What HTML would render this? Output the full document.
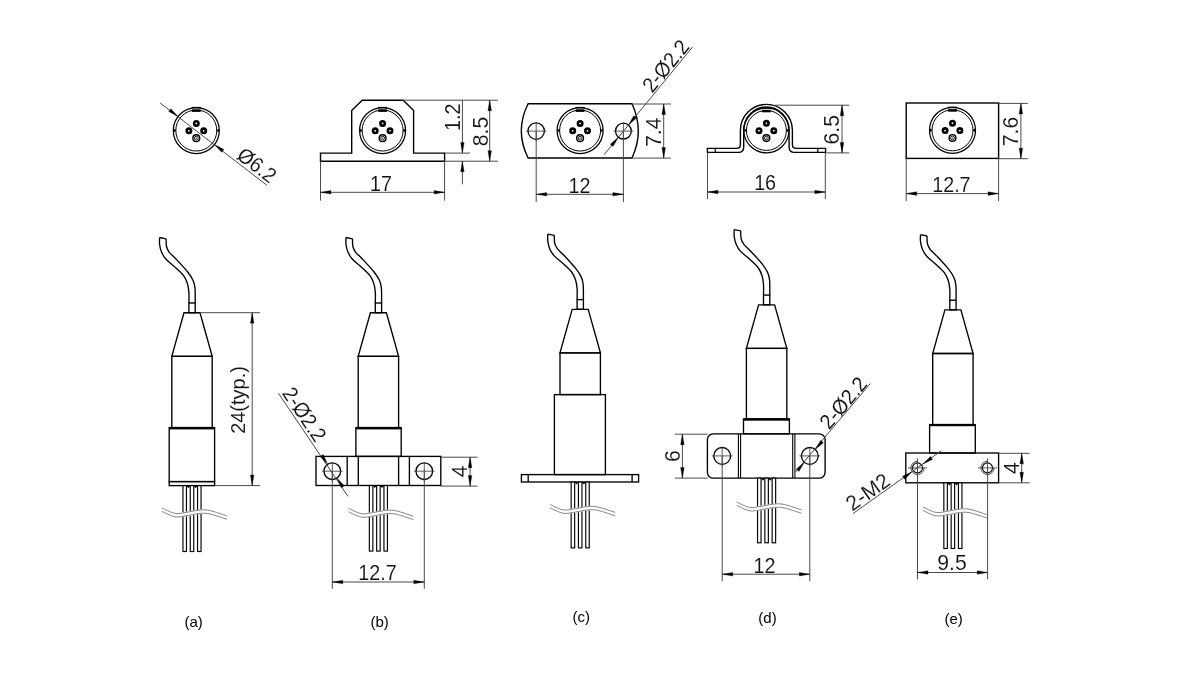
<!DOCTYPE html>
<html><head><meta charset="utf-8"><style>
html,body{margin:0;padding:0;background:#fff;}
body{width:1186px;height:700px;overflow:hidden;}
svg{display:block;will-change:transform;}
.t{font-family:"Liberation Sans",sans-serif;fill:#111;text-anchor:middle;stroke:#fff;stroke-width:0.1px;}
.lb{font-family:"Liberation Sans",sans-serif;fill:#000;}
</style></head><body>
<svg width="1186" height="700" viewBox="0 0 1186 700">
<rect x="0" y="0" width="1186" height="700" fill="#fff"/>
<circle cx="196.3" cy="130.5" r="23" stroke="#000" stroke-width="1.25" fill="#fff"/>
<circle cx="196.3" cy="130.5" r="20.5" stroke="#000" stroke-width="1.0" fill="none"/>
<rect x="191.9" y="109.4" width="8.8" height="2.5" fill="#000" stroke="none"/>
<rect x="191.7" y="106.9" width="9.2" height="1.4" fill="#000" stroke="none"/>
<path d="M173.8,128.7 L176.5,130.5 L173.8,132.3 Z" fill="#000"/>
<path d="M218.8,128.7 L216.1,130.5 L218.8,132.3 Z" fill="#000"/>
<circle cx="196.3" cy="123.4" r="2.2" stroke="#000" stroke-width="2.6" fill="#fff"/>
<circle cx="188.9" cy="130.8" r="2.2" stroke="#000" stroke-width="2.6" fill="#fff"/>
<circle cx="203.7" cy="130.8" r="2.2" stroke="#000" stroke-width="2.6" fill="#fff"/>
<circle cx="196.3" cy="138.2" r="3.4" stroke="#000" stroke-width="1.4" fill="none"/>
<circle cx="196.3" cy="138.2" r="1.9" stroke="#000" stroke-width="0.9" fill="none"/>
<circle cx="196.3" cy="138.2" r="0.6" fill="#000" stroke="none"/>
<line x1="160.1" y1="103" x2="266.9" y2="185.3" stroke="#4a4a4a" stroke-width="1" fill="none"/>
<path d="M178.08,116.46 L170.86,108.63 L168.67,111.48 Z" fill="#000" stroke="#000" stroke-width="0.3"/>
<path d="M214.52,144.54 L221.74,152.37 L223.93,149.52 Z" fill="#000" stroke="#000" stroke-width="0.3"/>
<text transform="translate(257,165) rotate(37.62) scale(0.93,1)" x="0" y="7.31" class="t" font-size="21.2">&#216;6.2</text>
<path d="M320.5,153.1 L351.7,153.1 L351.7,110.6 L362.2,100.2 L403.2,100.2 L413.6,110.6 L413.6,153.1 L444.6,153.1 L444.6,161.2 L320.5,161.2 Z" stroke="#000" stroke-width="1.4" fill="none"/>
<circle cx="382.6" cy="130.5" r="23" stroke="#000" stroke-width="1.25" fill="#fff"/>
<circle cx="382.6" cy="130.5" r="20.5" stroke="#000" stroke-width="1.0" fill="none"/>
<rect x="378.2" y="109.4" width="8.8" height="2.5" fill="#000" stroke="none"/>
<rect x="378" y="106.9" width="9.2" height="1.4" fill="#000" stroke="none"/>
<path d="M360.1,128.7 L362.8,130.5 L360.1,132.3 Z" fill="#000"/>
<path d="M405.1,128.7 L402.4,130.5 L405.1,132.3 Z" fill="#000"/>
<circle cx="382.6" cy="123.4" r="2.2" stroke="#000" stroke-width="2.6" fill="#fff"/>
<circle cx="375.2" cy="130.8" r="2.2" stroke="#000" stroke-width="2.6" fill="#fff"/>
<circle cx="390" cy="130.8" r="2.2" stroke="#000" stroke-width="2.6" fill="#fff"/>
<circle cx="382.6" cy="138.2" r="3.4" stroke="#000" stroke-width="1.4" fill="none"/>
<circle cx="382.6" cy="138.2" r="1.9" stroke="#000" stroke-width="0.9" fill="none"/>
<circle cx="382.6" cy="138.2" r="0.6" fill="#000" stroke="none"/>
<line x1="403.2" y1="100.2" x2="497.9" y2="100.2" stroke="#4a4a4a" stroke-width="1" fill="none"/>
<line x1="444.6" y1="153.1" x2="470" y2="153.1" stroke="#4a4a4a" stroke-width="1" fill="none"/>
<line x1="444.6" y1="161.2" x2="497.9" y2="161.2" stroke="#4a4a4a" stroke-width="1" fill="none"/>
<line x1="462.4" y1="100.2" x2="462.4" y2="153.1" stroke="#4a4a4a" stroke-width="1" fill="none"/>
<path d="M462.4,153.1 L464.2,142.6 L460.6,142.6 Z" fill="#000" stroke="#000" stroke-width="0.3"/>
<line x1="462.4" y1="161.2" x2="462.4" y2="184.3" stroke="#4a4a4a" stroke-width="1" fill="none"/>
<path d="M462.4,161.2 L460.6,171.7 L464.2,171.7 Z" fill="#000" stroke="#000" stroke-width="0.3"/>
<text transform="translate(453,117.3) rotate(-90) scale(0.93,1)" x="0" y="7.31" class="t" font-size="21.2">1.2</text>
<line x1="489.7" y1="100.2" x2="489.7" y2="161.2" stroke="#4a4a4a" stroke-width="1" fill="none"/>
<path d="M489.7,100.2 L487.9,110.7 L491.5,110.7 Z" fill="#000" stroke="#000" stroke-width="0.3"/>
<path d="M489.7,161.2 L491.5,150.7 L487.9,150.7 Z" fill="#000" stroke="#000" stroke-width="0.3"/>
<text transform="translate(480.5,131.5) rotate(-90) scale(1,1)" x="0" y="7.31" class="t" font-size="21.2">8.5</text>
<line x1="320.5" y1="161.2" x2="320.5" y2="200.7" stroke="#4a4a4a" stroke-width="1" fill="none"/>
<line x1="444.6" y1="161.2" x2="444.6" y2="200.7" stroke="#4a4a4a" stroke-width="1" fill="none"/>
<line x1="320.5" y1="192.3" x2="444.6" y2="192.3" stroke="#4a4a4a" stroke-width="1" fill="none"/>
<path d="M320.5,192.3 L331,194.1 L331,190.5 Z" fill="#000" stroke="#000" stroke-width="0.3"/>
<path d="M444.6,192.3 L434.1,190.5 L434.1,194.1 Z" fill="#000" stroke="#000" stroke-width="0.3"/>
<text transform="translate(381.05,183.8) rotate(0) scale(0.93,1)" x="0" y="7.31" class="t" font-size="21.2">17</text>
<path d="M528.1,103.8 L632,103.8 Q644.6,130.9 632,158 L528.1,158 Q514.5,130.9 528.1,103.8 Z" stroke="#000" stroke-width="1.4" fill="none"/>
<circle cx="580.1" cy="130.5" r="23" stroke="#000" stroke-width="1.25" fill="#fff"/>
<circle cx="580.1" cy="130.5" r="20.5" stroke="#000" stroke-width="1.0" fill="none"/>
<rect x="575.7" y="109.4" width="8.8" height="2.5" fill="#000" stroke="none"/>
<rect x="575.5" y="106.9" width="9.2" height="1.4" fill="#000" stroke="none"/>
<path d="M557.6,128.7 L560.3,130.5 L557.6,132.3 Z" fill="#000"/>
<path d="M602.6,128.7 L599.9,130.5 L602.6,132.3 Z" fill="#000"/>
<circle cx="580.1" cy="123.4" r="2.2" stroke="#000" stroke-width="2.6" fill="#fff"/>
<circle cx="572.7" cy="130.8" r="2.2" stroke="#000" stroke-width="2.6" fill="#fff"/>
<circle cx="587.5" cy="130.8" r="2.2" stroke="#000" stroke-width="2.6" fill="#fff"/>
<circle cx="580.1" cy="138.2" r="3.4" stroke="#000" stroke-width="1.4" fill="none"/>
<circle cx="580.1" cy="138.2" r="1.9" stroke="#000" stroke-width="0.9" fill="none"/>
<circle cx="580.1" cy="138.2" r="0.6" fill="#000" stroke="none"/>
<circle cx="536.2" cy="131.1" r="8.2" stroke="#000" stroke-width="1.3" fill="none"/>
<line x1="526" y1="131.1" x2="546.4" y2="131.1" stroke="#333" stroke-width="0.8"/>
<line x1="536.2" y1="122.4" x2="536.2" y2="141.3" stroke="#333" stroke-width="0.8"/>
<line x1="536.2" y1="131.1" x2="536.2" y2="202.1" stroke="#4a4a4a" stroke-width="1" fill="none"/>
<circle cx="623.4" cy="131.1" r="7.9" stroke="#000" stroke-width="1.3" fill="none"/>
<line x1="613.5" y1="131.1" x2="633.3" y2="131.1" stroke="#333" stroke-width="0.8"/>
<line x1="623.4" y1="122.7" x2="623.4" y2="141" stroke="#333" stroke-width="0.8"/>
<line x1="623.4" y1="131.1" x2="623.4" y2="202.1" stroke="#4a4a4a" stroke-width="1" fill="none"/>
<line x1="632" y1="104" x2="670.9" y2="104" stroke="#4a4a4a" stroke-width="1" fill="none"/>
<line x1="632" y1="158.1" x2="670.9" y2="158.1" stroke="#4a4a4a" stroke-width="1" fill="none"/>
<line x1="663.7" y1="104" x2="663.7" y2="158.1" stroke="#4a4a4a" stroke-width="1" fill="none"/>
<path d="M663.7,104 L661.9,114.5 L665.5,114.5 Z" fill="#000" stroke="#000" stroke-width="0.3"/>
<path d="M663.7,158.1 L665.5,147.6 L661.9,147.6 Z" fill="#000" stroke="#000" stroke-width="0.3"/>
<text transform="translate(654,132.3) rotate(-90) scale(1,1)" x="0" y="7.31" class="t" font-size="21.2">7.4</text>
<line x1="536.2" y1="194.3" x2="623.4" y2="194.3" stroke="#4a4a4a" stroke-width="1" fill="none"/>
<path d="M536.2,194.3 L546.7,196.1 L546.7,192.5 Z" fill="#000" stroke="#000" stroke-width="0.3"/>
<path d="M623.4,194.3 L612.9,192.5 L612.9,196.1 Z" fill="#000" stroke="#000" stroke-width="0.3"/>
<text transform="translate(579.5,185.6) rotate(0) scale(0.93,1)" x="0" y="7.31" class="t" font-size="21.2">12</text>
<line x1="604.1" y1="154.7" x2="692.8" y2="46.7" stroke="#4a4a4a" stroke-width="1" fill="none"/>
<path d="M618.32,137.28 L610.27,144.25 L613.05,146.54 Z" fill="#000" stroke="#000" stroke-width="0.3"/>
<path d="M628.48,124.92 L636.53,117.95 L633.75,115.66 Z" fill="#000" stroke="#000" stroke-width="0.3"/>
<text transform="translate(665.6,65.9) rotate(-50.6) scale(0.93,1)" x="0" y="7.31" class="t" font-size="21.2">2-&#216;2.2</text>
<path d="M707.4,148.4 L736.5,148.4 Q740.4,148.4 740.4,144.5 L740.4,130.4 A26,26 0 0 1 792.4,130.4 L792.4,144.5 Q792.4,148.4 796.3,148.4 L825.6,148.4 L825.6,152.4 L794.5,152.4 Q789.1,152.4 789.1,147 L789.1,130.4 A22.7,23.5 0 0 0 743.7,130.4 L743.7,147 Q743.7,152.4 738.3,152.4 L707.4,152.4 Z" stroke="#000" stroke-width="1.4" fill="#fff"/>
<line x1="715.3" y1="148.4" x2="715.3" y2="152.4" stroke="#000" stroke-width="1.2"/>
<line x1="817.8" y1="148.4" x2="817.8" y2="152.4" stroke="#000" stroke-width="1.2"/>
<circle cx="766.4" cy="130.4" r="22.5" stroke="#000" stroke-width="1.25" fill="#fff"/>
<circle cx="766.4" cy="130.4" r="20" stroke="#000" stroke-width="1.0" fill="none"/>
<rect x="762" y="109.8" width="8.8" height="2.5" fill="#000" stroke="none"/>
<rect x="761.8" y="107.3" width="9.2" height="1.4" fill="#000" stroke="none"/>
<path d="M744.4,128.6 L747.1,130.4 L744.4,132.2 Z" fill="#000"/>
<path d="M788.4,128.6 L785.7,130.4 L788.4,132.2 Z" fill="#000"/>
<circle cx="766.4" cy="123.3" r="2.2" stroke="#000" stroke-width="2.6" fill="#fff"/>
<circle cx="759" cy="130.7" r="2.2" stroke="#000" stroke-width="2.6" fill="#fff"/>
<circle cx="773.8" cy="130.7" r="2.2" stroke="#000" stroke-width="2.6" fill="#fff"/>
<circle cx="766.4" cy="138.1" r="3.4" stroke="#000" stroke-width="1.4" fill="none"/>
<circle cx="766.4" cy="138.1" r="1.9" stroke="#000" stroke-width="0.9" fill="none"/>
<circle cx="766.4" cy="138.1" r="0.6" fill="#000" stroke="none"/>
<line x1="775" y1="105.2" x2="849.3" y2="105.2" stroke="#4a4a4a" stroke-width="1" fill="none"/>
<line x1="825.6" y1="152.9" x2="849.3" y2="152.9" stroke="#4a4a4a" stroke-width="1" fill="none"/>
<line x1="842" y1="105.2" x2="842" y2="152.9" stroke="#4a4a4a" stroke-width="1" fill="none"/>
<path d="M842,105.2 L840.2,115.7 L843.8,115.7 Z" fill="#000" stroke="#000" stroke-width="0.3"/>
<path d="M842,152.9 L843.8,142.4 L840.2,142.4 Z" fill="#000" stroke="#000" stroke-width="0.3"/>
<text transform="translate(831.5,129.8) rotate(-90) scale(1,1)" x="0" y="7.31" class="t" font-size="21.2">6.5</text>
<line x1="707.5" y1="152.4" x2="707.5" y2="199" stroke="#4a4a4a" stroke-width="1" fill="none"/>
<line x1="825.3" y1="152.4" x2="825.3" y2="199" stroke="#4a4a4a" stroke-width="1" fill="none"/>
<line x1="707.5" y1="192" x2="825.3" y2="192" stroke="#4a4a4a" stroke-width="1" fill="none"/>
<path d="M707.5,192 L718,193.8 L718,190.2 Z" fill="#000" stroke="#000" stroke-width="0.3"/>
<path d="M825.3,192 L814.8,190.2 L814.8,193.8 Z" fill="#000" stroke="#000" stroke-width="0.3"/>
<text transform="translate(765.1,182.7) rotate(0) scale(0.93,1)" x="0" y="7.31" class="t" font-size="21.2">16</text>
<rect x="906.2" y="103" width="92.4" height="55.4" stroke="#000" stroke-width="1.4" fill="none"/>
<circle cx="952.5" cy="130.3" r="23" stroke="#000" stroke-width="1.25" fill="#fff"/>
<circle cx="952.5" cy="130.3" r="20.5" stroke="#000" stroke-width="1.0" fill="none"/>
<rect x="948.1" y="109.2" width="8.8" height="2.5" fill="#000" stroke="none"/>
<rect x="947.9" y="106.7" width="9.2" height="1.4" fill="#000" stroke="none"/>
<path d="M930,128.5 L932.7,130.3 L930,132.1 Z" fill="#000"/>
<path d="M975,128.5 L972.3,130.3 L975,132.1 Z" fill="#000"/>
<circle cx="952.5" cy="123.2" r="2.2" stroke="#000" stroke-width="2.6" fill="#fff"/>
<circle cx="945.1" cy="130.6" r="2.2" stroke="#000" stroke-width="2.6" fill="#fff"/>
<circle cx="959.9" cy="130.6" r="2.2" stroke="#000" stroke-width="2.6" fill="#fff"/>
<circle cx="952.5" cy="138" r="3.4" stroke="#000" stroke-width="1.4" fill="none"/>
<circle cx="952.5" cy="138" r="1.9" stroke="#000" stroke-width="0.9" fill="none"/>
<circle cx="952.5" cy="138" r="0.6" fill="#000" stroke="none"/>
<line x1="998.6" y1="103.4" x2="1027.9" y2="103.4" stroke="#4a4a4a" stroke-width="1" fill="none"/>
<line x1="998.6" y1="158.7" x2="1027.9" y2="158.7" stroke="#4a4a4a" stroke-width="1" fill="none"/>
<line x1="1020.9" y1="103.4" x2="1020.9" y2="158.7" stroke="#4a4a4a" stroke-width="1" fill="none"/>
<path d="M1020.9,103.4 L1019.1,113.9 L1022.7,113.9 Z" fill="#000" stroke="#000" stroke-width="0.3"/>
<path d="M1020.9,158.7 L1022.7,148.2 L1019.1,148.2 Z" fill="#000" stroke="#000" stroke-width="0.3"/>
<text transform="translate(1010.3,131.5) rotate(-90) scale(1,1)" x="0" y="7.31" class="t" font-size="21.2">7.6</text>
<line x1="906.2" y1="158.4" x2="906.2" y2="201" stroke="#4a4a4a" stroke-width="1" fill="none"/>
<line x1="998.6" y1="158.4" x2="998.6" y2="201" stroke="#4a4a4a" stroke-width="1" fill="none"/>
<line x1="906.2" y1="193.6" x2="998.6" y2="193.6" stroke="#4a4a4a" stroke-width="1" fill="none"/>
<path d="M906.2,193.6 L916.7,195.4 L916.7,191.8 Z" fill="#000" stroke="#000" stroke-width="0.3"/>
<path d="M998.6,193.6 L988.1,191.8 L988.1,195.4 Z" fill="#000" stroke="#000" stroke-width="0.3"/>
<text transform="translate(951.4,184.4) rotate(0) scale(0.93,1)" x="0" y="7.31" class="t" font-size="21.2">12.7</text>
<path d="M159.6,237.5 C159.6,238.67 159.27,242.03 159.6,244.5 C159.93,246.97 160.52,249.83 161.6,252.3 C162.68,254.77 163.75,256.73 166.1,259.3 C168.45,261.87 172.82,265.02 175.7,267.7 C178.58,270.38 181.47,272.83 183.4,275.4 C185.33,277.97 186.38,280.32 187.3,283.1 C188.22,285.88 188.63,288.78 188.9,292.1 C189.17,295.42 188.9,301.18 188.9,303" stroke="#000" stroke-width="1.35" fill="none"/>
<path d="M166.1,238.8 C166.17,240.08 165.97,244.25 166.5,246.5 C167.03,248.75 167.77,250.27 169.3,252.3 C170.83,254.33 172.7,255.5 175.7,258.7 C178.7,261.9 184.4,267.87 187.3,271.5 C190.2,275.13 191.82,277.72 193.1,280.5 C194.38,283.28 194.65,284.45 195,288.2 C195.35,291.95 195.17,300.53 195.2,303" stroke="#000" stroke-width="1.35" fill="none"/>
<line x1="159.6" y1="237.5" x2="166.1" y2="238.8" stroke="#000" stroke-width="1.35" fill="none"/>
<rect x="188.9" y="303" width="6.3" height="9.7" stroke="#000" stroke-width="1.35" fill="none"/>
<path d="M184,312.7 L200,312.7 L212.2,356.3 L171.8,356.3 Z" stroke="#000" stroke-width="1.35" fill="none"/>
<rect x="171.8" y="356.3" width="40.4" height="71.3" stroke="#000" stroke-width="1.35" fill="none"/>
<rect x="169.2" y="427.6" width="45.4" height="54" stroke="#000" stroke-width="1.35" fill="none"/>
<rect x="169.2" y="427.2" width="45.4" height="2.2" fill="#000" stroke="none"/>
<rect x="169.2" y="481.6" width="45.4" height="4" stroke="#000" stroke-width="1.35" fill="none"/>
<path d="M186.25,485.6 L190.45,485.6 L188.35,488.2 Z" fill="#000"/>
<path d="M193.55,485.6 L197.75,485.6 L195.65,488.2 Z" fill="#000"/>
<rect x="182.95" y="485.6" width="3.5" height="65.9" stroke="#000" stroke-width="1.15" fill="#fff"/>
<rect x="190.25" y="485.6" width="3.5" height="65.9" stroke="#000" stroke-width="1.15" fill="#fff"/>
<rect x="197.55" y="485.6" width="3.5" height="65.9" stroke="#000" stroke-width="1.15" fill="#fff"/>
<path d="M162,508 C164.17,508.9 170.83,512.7 175,513.4 C179.17,514.1 182.83,512.77 187,512.2 C191.17,511.63 196.17,510.27 200,510 C203.83,509.73 205.5,509.62 210,510.6 C214.5,511.58 224.17,515.02 227,515.9 L227,519.3 C224.17,518.42 214.5,514.98 210,514 C205.5,513.02 203.83,513.13 200,513.4 C196.17,513.67 191.17,515.03 187,515.6 C182.83,516.17 179.17,517.5 175,516.8 C170.83,516.1 164.17,512.3 162,511.4 Z" fill="#fff" stroke="none"/>
<path d="M162,508 C164.17,508.9 170.83,512.7 175,513.4 C179.17,514.1 182.83,512.77 187,512.2 C191.17,511.63 196.17,510.27 200,510 C203.83,509.73 205.5,509.62 210,510.6 C214.5,511.58 224.17,515.02 227,515.9" stroke="#fff" stroke-width="1.2" fill="none"/>
<path d="M162,511.4 C164.17,512.3 170.83,516.1 175,516.8 C179.17,517.5 182.83,516.17 187,515.6 C191.17,515.03 196.17,513.67 200,513.4 C203.83,513.13 205.5,513.02 210,514 C214.5,514.98 224.17,518.42 227,519.3" stroke="#fff" stroke-width="1.2" fill="none"/>
<path d="M162,508 C164.17,508.9 170.83,512.7 175,513.4 C179.17,514.1 182.83,512.77 187,512.2 C191.17,511.63 196.17,510.27 200,510 C203.83,509.73 205.5,509.62 210,510.6 C214.5,511.58 224.17,515.02 227,515.9" stroke="#666" stroke-width="0.8" fill="none"/>
<path d="M162,511.4 C164.17,512.3 170.83,516.1 175,516.8 C179.17,517.5 182.83,516.17 187,515.6 C191.17,515.03 196.17,513.67 200,513.4 C203.83,513.13 205.5,513.02 210,514 C214.5,514.98 224.17,518.42 227,519.3" stroke="#666" stroke-width="0.8" fill="none"/>
<line x1="200" y1="312.7" x2="260" y2="312.7" stroke="#4a4a4a" stroke-width="1" fill="none"/>
<line x1="214.6" y1="485.6" x2="260" y2="485.6" stroke="#4a4a4a" stroke-width="1" fill="none"/>
<line x1="252.2" y1="312.7" x2="252.2" y2="485.6" stroke="#4a4a4a" stroke-width="1" fill="none"/>
<path d="M252.2,312.7 L250.4,323.2 L254,323.2 Z" fill="#000" stroke="#000" stroke-width="0.3"/>
<path d="M252.2,485.6 L254,475.1 L250.4,475.1 Z" fill="#000" stroke="#000" stroke-width="0.3"/>
<text transform="translate(237.9,400) rotate(-90) scale(0.97,1)" x="0" y="7.11" class="t" font-size="20.6">24(typ.)</text>
<path d="M346,237.5 C346,238.67 345.67,242.03 346,244.5 C346.33,246.97 346.92,249.83 348,252.3 C349.08,254.77 350.15,256.73 352.5,259.3 C354.85,261.87 359.22,265.02 362.1,267.7 C364.98,270.38 367.87,272.83 369.8,275.4 C371.73,277.97 372.78,280.32 373.7,283.1 C374.62,285.88 375.03,288.78 375.3,292.1 C375.57,295.42 375.3,301.18 375.3,303" stroke="#000" stroke-width="1.35" fill="none"/>
<path d="M352.5,238.8 C352.57,240.08 352.37,244.25 352.9,246.5 C353.43,248.75 354.17,250.27 355.7,252.3 C357.23,254.33 359.1,255.5 362.1,258.7 C365.1,261.9 370.8,267.87 373.7,271.5 C376.6,275.13 378.22,277.72 379.5,280.5 C380.78,283.28 381.05,284.45 381.4,288.2 C381.75,291.95 381.57,300.53 381.6,303" stroke="#000" stroke-width="1.35" fill="none"/>
<line x1="346" y1="237.5" x2="352.5" y2="238.8" stroke="#000" stroke-width="1.35" fill="none"/>
<rect x="375.3" y="303" width="6.3" height="9.7" stroke="#000" stroke-width="1.35" fill="none"/>
<path d="M370.4,312.7 L386.4,312.7 L398.6,356.3 L358.2,356.3 Z" stroke="#000" stroke-width="1.35" fill="none"/>
<rect x="358.2" y="356.3" width="40.4" height="71.3" stroke="#000" stroke-width="1.35" fill="none"/>
<rect x="355.9" y="427.6" width="45.3" height="28.8" stroke="#000" stroke-width="1.35" fill="none"/>
<rect x="355.9" y="427.2" width="45.3" height="2.2" fill="#000" stroke="none"/>
<rect x="316" y="456.4" width="124.8" height="29.1" stroke="#000" stroke-width="1.35" fill="none"/>
<line x1="347.2" y1="456.4" x2="347.2" y2="485.5" stroke="#000" stroke-width="1.35" fill="none"/>
<line x1="358.3" y1="456.4" x2="358.3" y2="485.5" stroke="#000" stroke-width="1.35" fill="none"/>
<line x1="398.6" y1="456.4" x2="398.6" y2="485.5" stroke="#000" stroke-width="1.35" fill="none"/>
<line x1="409.4" y1="456.4" x2="409.4" y2="485.5" stroke="#000" stroke-width="1.35" fill="none"/>
<path d="M372.65,485.5 L376.85,485.5 L374.75,488.1 Z" fill="#000"/>
<path d="M379.95,485.5 L384.15,485.5 L382.05,488.1 Z" fill="#000"/>
<rect x="369.35" y="485.5" width="3.5" height="65.6" stroke="#000" stroke-width="1.15" fill="#fff"/>
<rect x="376.65" y="485.5" width="3.5" height="65.6" stroke="#000" stroke-width="1.15" fill="#fff"/>
<rect x="383.95" y="485.5" width="3.5" height="65.6" stroke="#000" stroke-width="1.15" fill="#fff"/>
<path d="M348.4,508.3 C350.57,509.2 357.23,513 361.4,513.7 C365.57,514.4 369.23,513.07 373.4,512.5 C377.57,511.93 382.57,510.57 386.4,510.3 C390.23,510.03 391.9,509.92 396.4,510.9 C400.9,511.88 410.57,515.32 413.4,516.2 L413.4,519.6 C410.57,518.72 400.9,515.28 396.4,514.3 C391.9,513.32 390.23,513.43 386.4,513.7 C382.57,513.97 377.57,515.33 373.4,515.9 C369.23,516.47 365.57,517.8 361.4,517.1 C357.23,516.4 350.57,512.6 348.4,511.7 Z" fill="#fff" stroke="none"/>
<path d="M348.4,508.3 C350.57,509.2 357.23,513 361.4,513.7 C365.57,514.4 369.23,513.07 373.4,512.5 C377.57,511.93 382.57,510.57 386.4,510.3 C390.23,510.03 391.9,509.92 396.4,510.9 C400.9,511.88 410.57,515.32 413.4,516.2" stroke="#fff" stroke-width="1.2" fill="none"/>
<path d="M348.4,511.7 C350.57,512.6 357.23,516.4 361.4,517.1 C365.57,517.8 369.23,516.47 373.4,515.9 C377.57,515.33 382.57,513.97 386.4,513.7 C390.23,513.43 391.9,513.32 396.4,514.3 C400.9,515.28 410.57,518.72 413.4,519.6" stroke="#fff" stroke-width="1.2" fill="none"/>
<path d="M348.4,508.3 C350.57,509.2 357.23,513 361.4,513.7 C365.57,514.4 369.23,513.07 373.4,512.5 C377.57,511.93 382.57,510.57 386.4,510.3 C390.23,510.03 391.9,509.92 396.4,510.9 C400.9,511.88 410.57,515.32 413.4,516.2" stroke="#666" stroke-width="0.8" fill="none"/>
<path d="M348.4,511.7 C350.57,512.6 357.23,516.4 361.4,517.1 C365.57,517.8 369.23,516.47 373.4,515.9 C377.57,515.33 382.57,513.97 386.4,513.7 C390.23,513.43 391.9,513.32 396.4,514.3 C400.9,515.28 410.57,518.72 413.4,519.6" stroke="#666" stroke-width="0.8" fill="none"/>
<circle cx="332.3" cy="471.2" r="8.3" stroke="#000" stroke-width="1.3" fill="none"/>
<line x1="322" y1="471.2" x2="342.6" y2="471.2" stroke="#333" stroke-width="0.8"/>
<line x1="332.3" y1="462.4" x2="332.3" y2="481.5" stroke="#333" stroke-width="0.8"/>
<line x1="332.3" y1="471.2" x2="332.3" y2="588.8" stroke="#4a4a4a" stroke-width="1" fill="none"/>
<circle cx="424.3" cy="471.2" r="8.3" stroke="#000" stroke-width="1.3" fill="none"/>
<line x1="414" y1="471.2" x2="434.6" y2="471.2" stroke="#333" stroke-width="0.8"/>
<line x1="424.3" y1="462.4" x2="424.3" y2="481.5" stroke="#333" stroke-width="0.8"/>
<line x1="424.3" y1="471.2" x2="424.3" y2="588.8" stroke="#4a4a4a" stroke-width="1" fill="none"/>
<line x1="440.8" y1="457.2" x2="477.6" y2="457.2" stroke="#4a4a4a" stroke-width="1" fill="none"/>
<line x1="440.8" y1="486.1" x2="477.6" y2="486.1" stroke="#4a4a4a" stroke-width="1" fill="none"/>
<line x1="470.1" y1="457.2" x2="470.1" y2="486.1" stroke="#4a4a4a" stroke-width="1" fill="none"/>
<path d="M470.1,457.2 L468.3,467.7 L471.9,467.7 Z" fill="#000" stroke="#000" stroke-width="0.3"/>
<path d="M470.1,486.1 L471.9,475.6 L468.3,475.6 Z" fill="#000" stroke="#000" stroke-width="0.3"/>
<text transform="translate(460,471.3) rotate(-90) scale(1,1)" x="0" y="7.31" class="t" font-size="21.2">4</text>
<line x1="332.3" y1="582" x2="424.3" y2="582" stroke="#4a4a4a" stroke-width="1" fill="none"/>
<path d="M332.3,582 L342.8,583.8 L342.8,580.2 Z" fill="#000" stroke="#000" stroke-width="0.3"/>
<path d="M424.3,582 L413.8,580.2 L413.8,583.8 Z" fill="#000" stroke="#000" stroke-width="0.3"/>
<text transform="translate(377.5,572.5) rotate(0) scale(0.93,1)" x="0" y="7.31" class="t" font-size="21.2">12.7</text>
<line x1="278.4" y1="393.2" x2="348" y2="496.4" stroke="#4a4a4a" stroke-width="1" fill="none"/>
<path d="M327.66,464.32 L323.28,454.61 L320.3,456.62 Z" fill="#000" stroke="#000" stroke-width="0.3"/>
<path d="M336.94,478.08 L341.32,487.79 L344.3,485.78 Z" fill="#000" stroke="#000" stroke-width="0.3"/>
<text transform="translate(304.5,414.2) rotate(56) scale(0.93,1)" x="0" y="7.31" class="t" font-size="21.2">2-&#216;2.2</text>
<path d="M547.8,234.1 C547.8,235.27 547.47,238.63 547.8,241.1 C548.13,243.57 548.72,246.43 549.8,248.9 C550.88,251.37 551.95,253.33 554.3,255.9 C556.65,258.47 561.02,261.62 563.9,264.3 C566.78,266.98 569.67,269.43 571.6,272 C573.53,274.57 574.58,276.92 575.5,279.7 C576.42,282.48 576.83,285.38 577.1,288.7 C577.37,292.02 577.1,297.78 577.1,299.6" stroke="#000" stroke-width="1.35" fill="none"/>
<path d="M554.3,235.4 C554.37,236.68 554.17,240.85 554.7,243.1 C555.23,245.35 555.97,246.87 557.5,248.9 C559.03,250.93 560.9,252.1 563.9,255.3 C566.9,258.5 572.6,264.47 575.5,268.1 C578.4,271.73 580.02,274.32 581.3,277.1 C582.58,279.88 582.85,281.05 583.2,284.8 C583.55,288.55 583.37,297.13 583.4,299.6" stroke="#000" stroke-width="1.35" fill="none"/>
<line x1="547.8" y1="234.1" x2="554.3" y2="235.4" stroke="#000" stroke-width="1.35" fill="none"/>
<rect x="577.1" y="299.6" width="6.3" height="9.7" stroke="#000" stroke-width="1.35" fill="none"/>
<path d="M572.2,309.3 L588.2,309.3 L600.4,352.9 L560,352.9 Z" stroke="#000" stroke-width="1.35" fill="none"/>
<rect x="560" y="352.9" width="40.4" height="41.7" stroke="#000" stroke-width="1.35" fill="none"/>
<rect x="554.4" y="394.6" width="51" height="80" stroke="#000" stroke-width="1.35" fill="none"/>
<rect x="521.4" y="474.6" width="117.2" height="7.4" stroke="#000" stroke-width="1.35" fill="none"/>
<line x1="528.2" y1="474.6" x2="528.2" y2="482" stroke="#000" stroke-width="1.35" fill="none"/>
<line x1="632.1" y1="474.6" x2="632.1" y2="482" stroke="#000" stroke-width="1.35" fill="none"/>
<path d="M574.45,482 L578.65,482 L576.55,484.6 Z" fill="#000"/>
<path d="M581.75,482 L585.95,482 L583.85,484.6 Z" fill="#000"/>
<rect x="571.15" y="482" width="3.5" height="65.9" stroke="#000" stroke-width="1.15" fill="#fff"/>
<rect x="578.45" y="482" width="3.5" height="65.9" stroke="#000" stroke-width="1.15" fill="#fff"/>
<rect x="585.75" y="482" width="3.5" height="65.9" stroke="#000" stroke-width="1.15" fill="#fff"/>
<path d="M550.2,504.5 C552.37,505.4 559.03,509.2 563.2,509.9 C567.37,510.6 571.03,509.27 575.2,508.7 C579.37,508.13 584.37,506.77 588.2,506.5 C592.03,506.23 593.7,506.12 598.2,507.1 C602.7,508.08 612.37,511.52 615.2,512.4 L615.2,515.8 C612.37,514.92 602.7,511.48 598.2,510.5 C593.7,509.52 592.03,509.63 588.2,509.9 C584.37,510.17 579.37,511.53 575.2,512.1 C571.03,512.67 567.37,514 563.2,513.3 C559.03,512.6 552.37,508.8 550.2,507.9 Z" fill="#fff" stroke="none"/>
<path d="M550.2,504.5 C552.37,505.4 559.03,509.2 563.2,509.9 C567.37,510.6 571.03,509.27 575.2,508.7 C579.37,508.13 584.37,506.77 588.2,506.5 C592.03,506.23 593.7,506.12 598.2,507.1 C602.7,508.08 612.37,511.52 615.2,512.4" stroke="#fff" stroke-width="1.2" fill="none"/>
<path d="M550.2,507.9 C552.37,508.8 559.03,512.6 563.2,513.3 C567.37,514 571.03,512.67 575.2,512.1 C579.37,511.53 584.37,510.17 588.2,509.9 C592.03,509.63 593.7,509.52 598.2,510.5 C602.7,511.48 612.37,514.92 615.2,515.8" stroke="#fff" stroke-width="1.2" fill="none"/>
<path d="M550.2,504.5 C552.37,505.4 559.03,509.2 563.2,509.9 C567.37,510.6 571.03,509.27 575.2,508.7 C579.37,508.13 584.37,506.77 588.2,506.5 C592.03,506.23 593.7,506.12 598.2,507.1 C602.7,508.08 612.37,511.52 615.2,512.4" stroke="#666" stroke-width="0.8" fill="none"/>
<path d="M550.2,507.9 C552.37,508.8 559.03,512.6 563.2,513.3 C567.37,514 571.03,512.67 575.2,512.1 C579.37,511.53 584.37,510.17 588.2,509.9 C592.03,509.63 593.7,509.52 598.2,510.5 C602.7,511.48 612.37,514.92 615.2,515.8" stroke="#666" stroke-width="0.8" fill="none"/>
<path d="M734.2,229.6 C734.2,230.77 733.87,234.13 734.2,236.6 C734.53,239.07 735.12,241.93 736.2,244.4 C737.28,246.87 738.35,248.83 740.7,251.4 C743.05,253.97 747.42,257.12 750.3,259.8 C753.18,262.48 756.07,264.93 758,267.5 C759.93,270.07 760.98,272.42 761.9,275.2 C762.82,277.98 763.23,280.88 763.5,284.2 C763.77,287.52 763.5,293.28 763.5,295.1" stroke="#000" stroke-width="1.35" fill="none"/>
<path d="M740.7,230.9 C740.77,232.18 740.57,236.35 741.1,238.6 C741.63,240.85 742.37,242.37 743.9,244.4 C745.43,246.43 747.3,247.6 750.3,250.8 C753.3,254 759,259.97 761.9,263.6 C764.8,267.23 766.42,269.82 767.7,272.6 C768.98,275.38 769.25,276.55 769.6,280.3 C769.95,284.05 769.77,292.63 769.8,295.1" stroke="#000" stroke-width="1.35" fill="none"/>
<line x1="734.2" y1="229.6" x2="740.7" y2="230.9" stroke="#000" stroke-width="1.35" fill="none"/>
<rect x="763.5" y="295.1" width="6.3" height="9.7" stroke="#000" stroke-width="1.35" fill="none"/>
<path d="M758.6,304.8 L774.6,304.8 L786.8,348.4 L746.4,348.4 Z" stroke="#000" stroke-width="1.35" fill="none"/>
<rect x="746.4" y="348.4" width="40.4" height="70.5" stroke="#000" stroke-width="1.35" fill="none"/>
<rect x="743.5" y="418.9" width="45.9" height="14.9" stroke="#000" stroke-width="1.35" fill="none"/>
<rect x="743.5" y="418.5" width="45.9" height="2.2" fill="#000" stroke="none"/>
<rect x="707.4" y="433.8" width="117.7" height="44.3" rx="5.8" stroke="#000" stroke-width="1.35" fill="none"/>
<line x1="738.4" y1="433.8" x2="738.4" y2="478.1" stroke="#000" stroke-width="1.1"/>
<line x1="740.6" y1="433.8" x2="740.6" y2="478.1" stroke="#000" stroke-width="1.1"/>
<line x1="792.7" y1="433.8" x2="792.7" y2="478.1" stroke="#000" stroke-width="1.1"/>
<line x1="794.9" y1="433.8" x2="794.9" y2="478.1" stroke="#000" stroke-width="1.1"/>
<path d="M760.85,478.1 L765.05,478.1 L762.95,480.7 Z" fill="#000"/>
<path d="M768.15,478.1 L772.35,478.1 L770.25,480.7 Z" fill="#000"/>
<rect x="757.55" y="478.1" width="3.5" height="64.7" stroke="#000" stroke-width="1.15" fill="#fff"/>
<rect x="764.85" y="478.1" width="3.5" height="64.7" stroke="#000" stroke-width="1.15" fill="#fff"/>
<rect x="772.15" y="478.1" width="3.5" height="64.7" stroke="#000" stroke-width="1.15" fill="#fff"/>
<path d="M736.6,502 C738.77,502.9 745.43,506.7 749.6,507.4 C753.77,508.1 757.43,506.77 761.6,506.2 C765.77,505.63 770.77,504.27 774.6,504 C778.43,503.73 780.1,503.62 784.6,504.6 C789.1,505.58 798.77,509.02 801.6,509.9 L801.6,513.3 C798.77,512.42 789.1,508.98 784.6,508 C780.1,507.02 778.43,507.13 774.6,507.4 C770.77,507.67 765.77,509.03 761.6,509.6 C757.43,510.17 753.77,511.5 749.6,510.8 C745.43,510.1 738.77,506.3 736.6,505.4 Z" fill="#fff" stroke="none"/>
<path d="M736.6,502 C738.77,502.9 745.43,506.7 749.6,507.4 C753.77,508.1 757.43,506.77 761.6,506.2 C765.77,505.63 770.77,504.27 774.6,504 C778.43,503.73 780.1,503.62 784.6,504.6 C789.1,505.58 798.77,509.02 801.6,509.9" stroke="#fff" stroke-width="1.2" fill="none"/>
<path d="M736.6,505.4 C738.77,506.3 745.43,510.1 749.6,510.8 C753.77,511.5 757.43,510.17 761.6,509.6 C765.77,509.03 770.77,507.67 774.6,507.4 C778.43,507.13 780.1,507.02 784.6,508 C789.1,508.98 798.77,512.42 801.6,513.3" stroke="#fff" stroke-width="1.2" fill="none"/>
<path d="M736.6,502 C738.77,502.9 745.43,506.7 749.6,507.4 C753.77,508.1 757.43,506.77 761.6,506.2 C765.77,505.63 770.77,504.27 774.6,504 C778.43,503.73 780.1,503.62 784.6,504.6 C789.1,505.58 798.77,509.02 801.6,509.9" stroke="#666" stroke-width="0.8" fill="none"/>
<path d="M736.6,505.4 C738.77,506.3 745.43,510.1 749.6,510.8 C753.77,511.5 757.43,510.17 761.6,509.6 C765.77,509.03 770.77,507.67 774.6,507.4 C778.43,507.13 780.1,507.02 784.6,508 C789.1,508.98 798.77,512.42 801.6,513.3" stroke="#666" stroke-width="0.8" fill="none"/>
<circle cx="722.2" cy="455.9" r="8.4" stroke="#000" stroke-width="1.3" fill="none"/>
<line x1="711.8" y1="455.9" x2="732.6" y2="455.9" stroke="#333" stroke-width="0.8"/>
<line x1="722.2" y1="447" x2="722.2" y2="466.3" stroke="#333" stroke-width="0.8"/>
<line x1="722.2" y1="455.9" x2="722.2" y2="581.4" stroke="#4a4a4a" stroke-width="1" fill="none"/>
<circle cx="809.8" cy="455.9" r="8.4" stroke="#000" stroke-width="1.3" fill="none"/>
<line x1="799.4" y1="455.9" x2="820.2" y2="455.9" stroke="#333" stroke-width="0.8"/>
<line x1="809.8" y1="447" x2="809.8" y2="466.3" stroke="#333" stroke-width="0.8"/>
<line x1="809.8" y1="455.9" x2="809.8" y2="581.4" stroke="#4a4a4a" stroke-width="1" fill="none"/>
<line x1="674.9" y1="434.2" x2="707.6" y2="434.2" stroke="#4a4a4a" stroke-width="1" fill="none"/>
<line x1="674.9" y1="478.1" x2="707.6" y2="478.1" stroke="#4a4a4a" stroke-width="1" fill="none"/>
<line x1="682.4" y1="434.2" x2="682.4" y2="478.1" stroke="#4a4a4a" stroke-width="1" fill="none"/>
<path d="M682.4,434.2 L680.6,444.7 L684.2,444.7 Z" fill="#000" stroke="#000" stroke-width="0.3"/>
<path d="M682.4,478.1 L684.2,467.6 L680.6,467.6 Z" fill="#000" stroke="#000" stroke-width="0.3"/>
<text transform="translate(672.6,456.1) rotate(-90) scale(1,1)" x="0" y="7.31" class="t" font-size="21.2">6</text>
<line x1="722.2" y1="574.2" x2="809.8" y2="574.2" stroke="#4a4a4a" stroke-width="1" fill="none"/>
<path d="M722.2,574.2 L732.7,576 L732.7,572.4 Z" fill="#000" stroke="#000" stroke-width="0.3"/>
<path d="M809.8,574.2 L799.3,572.4 L799.3,576 Z" fill="#000" stroke="#000" stroke-width="0.3"/>
<text transform="translate(764.5,565.3) rotate(0) scale(0.93,1)" x="0" y="7.31" class="t" font-size="21.2">12</text>
<line x1="794.9" y1="472.6" x2="870.4" y2="383.4" stroke="#4a4a4a" stroke-width="1" fill="none"/>
<path d="M804.37,462.31 L796.22,469.16 L798.96,471.49 Z" fill="#000" stroke="#000" stroke-width="0.3"/>
<path d="M815.23,449.49 L823.38,442.64 L820.64,440.31 Z" fill="#000" stroke="#000" stroke-width="0.3"/>
<text transform="translate(843.2,402.8) rotate(-49.76) scale(0.93,1)" x="0" y="7.31" class="t" font-size="21.2">2-&#216;2.2</text>
<path d="M920.5,234.7 C920.5,235.87 920.17,239.23 920.5,241.7 C920.83,244.17 921.42,247.03 922.5,249.5 C923.58,251.97 924.65,253.93 927,256.5 C929.35,259.07 933.72,262.22 936.6,264.9 C939.48,267.58 942.37,270.03 944.3,272.6 C946.23,275.17 947.28,277.52 948.2,280.3 C949.12,283.08 949.53,285.98 949.8,289.3 C950.07,292.62 949.8,298.38 949.8,300.2" stroke="#000" stroke-width="1.35" fill="none"/>
<path d="M927,236 C927.07,237.28 926.87,241.45 927.4,243.7 C927.93,245.95 928.67,247.47 930.2,249.5 C931.73,251.53 933.6,252.7 936.6,255.9 C939.6,259.1 945.3,265.07 948.2,268.7 C951.1,272.33 952.72,274.92 954,277.7 C955.28,280.48 955.55,281.65 955.9,285.4 C956.25,289.15 956.07,297.73 956.1,300.2" stroke="#000" stroke-width="1.35" fill="none"/>
<line x1="920.5" y1="234.7" x2="927" y2="236" stroke="#000" stroke-width="1.35" fill="none"/>
<rect x="949.8" y="300.2" width="6.3" height="9.7" stroke="#000" stroke-width="1.35" fill="none"/>
<path d="M944.9,309.9 L960.9,309.9 L973.1,353.5 L932.7,353.5 Z" stroke="#000" stroke-width="1.35" fill="none"/>
<rect x="932.7" y="353.5" width="40.4" height="71.1" stroke="#000" stroke-width="1.35" fill="none"/>
<rect x="929.6" y="424.6" width="45.7" height="28.4" stroke="#000" stroke-width="1.35" fill="none"/>
<rect x="929.6" y="424" width="45.7" height="2.2" fill="#000" stroke="none"/>
<rect x="905.8" y="453" width="92.8" height="29.8" stroke="#000" stroke-width="1.35" fill="none"/>
<path d="M947.15,482.8 L951.35,482.8 L949.25,485.4 Z" fill="#000"/>
<path d="M954.45,482.8 L958.65,482.8 L956.55,485.4 Z" fill="#000"/>
<rect x="943.85" y="482.8" width="3.5" height="65.7" stroke="#000" stroke-width="1.15" fill="#fff"/>
<rect x="951.15" y="482.8" width="3.5" height="65.7" stroke="#000" stroke-width="1.15" fill="#fff"/>
<rect x="958.45" y="482.8" width="3.5" height="65.7" stroke="#000" stroke-width="1.15" fill="#fff"/>
<path d="M922.9,507 C925.07,507.9 931.73,511.7 935.9,512.4 C940.07,513.1 943.73,511.77 947.9,511.2 C952.07,510.63 957.07,509.27 960.9,509 C964.73,508.73 966.4,508.62 970.9,509.6 C975.4,510.58 985.07,514.02 987.9,514.9 L987.9,518.3 C985.07,517.42 975.4,513.98 970.9,513 C966.4,512.02 964.73,512.13 960.9,512.4 C957.07,512.67 952.07,514.03 947.9,514.6 C943.73,515.17 940.07,516.5 935.9,515.8 C931.73,515.1 925.07,511.3 922.9,510.4 Z" fill="#fff" stroke="none"/>
<path d="M922.9,507 C925.07,507.9 931.73,511.7 935.9,512.4 C940.07,513.1 943.73,511.77 947.9,511.2 C952.07,510.63 957.07,509.27 960.9,509 C964.73,508.73 966.4,508.62 970.9,509.6 C975.4,510.58 985.07,514.02 987.9,514.9" stroke="#fff" stroke-width="1.2" fill="none"/>
<path d="M922.9,510.4 C925.07,511.3 931.73,515.1 935.9,515.8 C940.07,516.5 943.73,515.17 947.9,514.6 C952.07,514.03 957.07,512.67 960.9,512.4 C964.73,512.13 966.4,512.02 970.9,513 C975.4,513.98 985.07,517.42 987.9,518.3" stroke="#fff" stroke-width="1.2" fill="none"/>
<path d="M922.9,507 C925.07,507.9 931.73,511.7 935.9,512.4 C940.07,513.1 943.73,511.77 947.9,511.2 C952.07,510.63 957.07,509.27 960.9,509 C964.73,508.73 966.4,508.62 970.9,509.6 C975.4,510.58 985.07,514.02 987.9,514.9" stroke="#666" stroke-width="0.8" fill="none"/>
<path d="M922.9,510.4 C925.07,511.3 931.73,515.1 935.9,515.8 C940.07,516.5 943.73,515.17 947.9,514.6 C952.07,514.03 957.07,512.67 960.9,512.4 C964.73,512.13 966.4,512.02 970.9,513 C975.4,513.98 985.07,517.42 987.9,518.3" stroke="#666" stroke-width="0.8" fill="none"/>
<circle cx="917.5" cy="467.9" r="5" stroke="#000" stroke-width="1.1" fill="none"/>
<path d="M924.1,467.9 A6.6,6.6 0 1 1 917.5,461.3" stroke="#333" stroke-width="0.9" fill="none"/>
<line x1="908" y1="467.9" x2="927" y2="467.9" stroke="#333" stroke-width="0.8"/>
<line x1="917.5" y1="458.4" x2="917.5" y2="475.9" stroke="#333" stroke-width="0.8"/>
<circle cx="987.5" cy="467.9" r="5" stroke="#000" stroke-width="1.1" fill="none"/>
<path d="M994.1,467.9 A6.6,6.6 0 1 1 987.5,461.3" stroke="#333" stroke-width="0.9" fill="none"/>
<line x1="978" y1="467.9" x2="997" y2="467.9" stroke="#333" stroke-width="0.8"/>
<line x1="987.5" y1="458.4" x2="987.5" y2="475.9" stroke="#333" stroke-width="0.8"/>
<line x1="917.5" y1="467.9" x2="917.5" y2="579.3" stroke="#4a4a4a" stroke-width="1" fill="none"/>
<line x1="987.6" y1="467.9" x2="987.6" y2="579.3" stroke="#4a4a4a" stroke-width="1" fill="none"/>
<line x1="998.6" y1="453.3" x2="1029.7" y2="453.3" stroke="#4a4a4a" stroke-width="1" fill="none"/>
<line x1="998.6" y1="482.8" x2="1029.7" y2="482.8" stroke="#4a4a4a" stroke-width="1" fill="none"/>
<line x1="1021.7" y1="453.3" x2="1021.7" y2="482.8" stroke="#4a4a4a" stroke-width="1" fill="none"/>
<path d="M1021.7,453.3 L1019.9,463.8 L1023.5,463.8 Z" fill="#000" stroke="#000" stroke-width="0.3"/>
<path d="M1021.7,482.8 L1023.5,472.3 L1019.9,472.3 Z" fill="#000" stroke="#000" stroke-width="0.3"/>
<text transform="translate(1011.7,468) rotate(-90) scale(1,1)" x="0" y="7.31" class="t" font-size="21.2">4</text>
<line x1="917.5" y1="572.5" x2="987.6" y2="572.5" stroke="#4a4a4a" stroke-width="1" fill="none"/>
<path d="M917.5,572.5 L928,574.3 L928,570.7 Z" fill="#000" stroke="#000" stroke-width="0.3"/>
<path d="M987.6,572.5 L977.1,570.7 L977.1,574.3 Z" fill="#000" stroke="#000" stroke-width="0.3"/>
<text transform="translate(952,562.7) rotate(0) scale(1,1)" x="0" y="7.31" class="t" font-size="21.2">9.5</text>
<line x1="852.9" y1="513.6" x2="941.4" y2="450.7" stroke="#4a4a4a" stroke-width="1" fill="none"/>
<path d="M912.12,471.72 L902.52,476.34 L904.6,479.27 Z" fill="#000" stroke="#000" stroke-width="0.3"/>
<path d="M922.88,464.08 L932.48,459.46 L930.4,456.53 Z" fill="#000" stroke="#000" stroke-width="0.3"/>
<text transform="translate(867.8,491.9) rotate(-35.4) scale(1,1)" x="0" y="7.31" class="t" font-size="21.2">2-M2</text>
<text x="193.6" y="626.6" class="lb" text-anchor="middle" font-size="15">(a)</text>
<text x="379.7" y="626.8" class="lb" text-anchor="middle" font-size="15">(b)</text>
<text x="581.2" y="622.2" class="lb" text-anchor="middle" font-size="15">(c)</text>
<text x="767.5" y="622.6" class="lb" text-anchor="middle" font-size="15">(d)</text>
<text x="953.6" y="623.5" class="lb" text-anchor="middle" font-size="15">(e)</text>
</svg>
</body></html>
